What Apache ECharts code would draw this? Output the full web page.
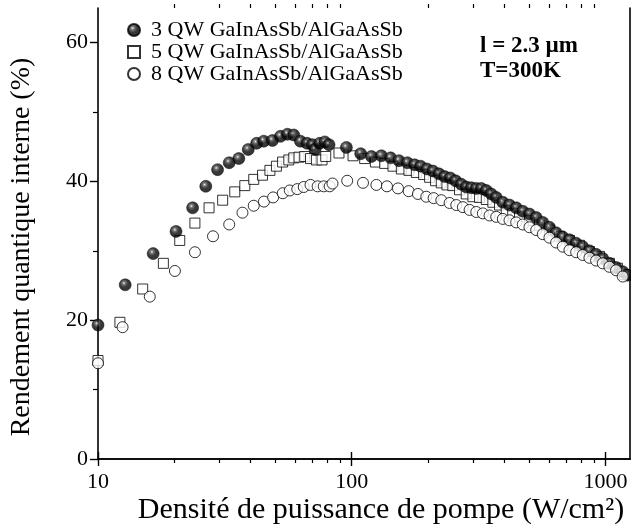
<!DOCTYPE html>
<html><head><meta charset="utf-8">
<script src="https://cdn.jsdelivr.net/npm/echarts@6/dist/echarts.min.js"></script>
<style>html,body{margin:0;padding:0;background:#fff}#c{width:631px;height:529px}</style>
</head><body><div id="c"></div>
<script>
const seriesNames = ['3 QW GaInAsSb/AlGaAsSb', '5 QW GaInAsSb/AlGaAsSb', '8 QW GaInAsSb/AlGaAsSb'];

const qw3X = [10, 12.8, 16.5, 20.3, 23.6, 26.6, 29.6, 32.9, 35.9, 39.1, 42.2, 45.0, 48.7, 52.4, 55.8, 59.1, 62.8, 66.7, 70.0, 71.7, 74.8, 78.3, 81.4, 95.3, 108.5, 119.6, 130.9, 142.4, 153.6, 165.7, 177.0, 186.9, 197.9, 209.0, 220.7, 232.4, 244.7, 256.7, 270.3, 282.8, 296.0, 309.7, 324.1, 339.2, 354.8, 371.3, 394.2, 418.8, 445.0, 472.5, 502.0, 533.5, 566.3, 601.8, 639.4, 679.0, 721.6, 766.7, 814.0, 865.0, 919.1, 975.9, 1036.8, 1101.6, 1170, 1220];
const qw3Y = [19.3, 25.1, 29.6, 32.8, 36.2, 39.3, 41.7, 42.7, 43.3, 44.6, 45.5, 45.8, 45.9, 46.5, 46.8, 46.7, 45.8, 45.5, 45.3, 44.6, 45.5, 45.7, 45.3, 44.9, 44.0, 43.6, 43.7, 43.4, 43.0, 42.7, 42.4, 42.2, 41.8, 41.5, 41.1, 40.7, 40.5, 40.1, 39.6, 39.2, 39.1, 39.0, 39.0, 38.7, 38.2, 37.7, 37.0, 36.6, 36.2, 35.7, 35.3, 34.8, 34.1, 33.4, 32.6, 32.0, 31.6, 31.1, 30.6, 30.0, 29.5, 28.9, 28.2, 27.6, 27.0, 26.5];

const qw5X = [10, 12.2, 15.0, 18.1, 21.0, 24.1, 27.4, 31.0, 34.6, 37.9, 41.1, 44.5, 47.6, 50.5, 53.4, 56.5, 59.1, 62.0, 65.3, 68.8, 72.6, 76.4, 79.0, 89.1, 101.2, 112.5, 124.0, 134.9, 145.4, 156.9, 168.1, 179.8, 192.1, 202.8, 214.1, 225.5, 237.3, 250.4, 266.1, 282.8, 300.4, 319.1, 339.2, 360.0, 382.5, 406.5, 431.2, 458.6, 502.0, 549.9, 601.8, 659.0, 721.6, 790.0, 865.0, 947.1, 1036.8, 1115, 1188];
const qw5Y = [14.2, 19.7, 24.5, 28.2, 31.5, 34.0, 36.2, 37.3, 38.5, 39.4, 40.3, 40.9, 41.6, 42.2, 42.8, 43.1, 43.4, 43.5, 43.6, 43.3, 43.1, 43.1, 43.6, 44.1, 43.7, 43.3, 42.8, 42.6, 42.2, 41.8, 41.6, 41.3, 41.0, 40.6, 40.1, 39.8, 39.5, 39.4, 38.8, 38.2, 37.8, 37.7, 37.4, 37.0, 36.6, 35.8, 35.4, 34.9, 34.4, 33.7, 33.0, 32.1, 31.5, 30.8, 29.9, 29.2, 28.2, 27.5, 26.6];

const qw8X = [10, 12.5, 16.0, 20.1, 24.1, 28.4, 32.9, 37.1, 41.1, 45.1, 49.0, 53.5, 57.0, 61.0, 64.7, 68.8, 73.4, 77.6, 81.9, 84.0, 96.0, 110.8, 125.1, 137.7, 152.2, 167.7, 182.4, 196.8, 210.3, 225.5, 243.1, 258.4, 274.3, 291.5, 309.7, 328.8, 349.4, 371.3, 394.2, 418.8, 445.0, 472.5, 502.0, 533.5, 566.3, 601.8, 639.4, 679.0, 721.6, 766.7, 814.0, 865.0, 919.1, 975.9, 1036.8, 1101.6, 1170];
const qw8Y = [13.8, 19.0, 23.4, 27.1, 29.8, 32.1, 33.8, 35.5, 36.5, 37.1, 37.7, 38.3, 38.7, 38.9, 39.2, 39.5, 39.3, 39.3, 39.3, 39.7, 40.1, 39.8, 39.5, 39.3, 39.0, 38.6, 38.2, 37.8, 37.6, 37.3, 36.9, 36.6, 36.3, 35.9, 35.6, 35.4, 35.1, 34.9, 34.6, 34.4, 34.1, 33.8, 33.4, 33.0, 32.4, 31.9, 31.2, 30.6, 30.1, 29.8, 29.4, 29.0, 28.6, 28.2, 27.7, 27.2, 26.3];

const xMajorTicks = [10, 100, 1000];
const xMinorTicks = [20, 30, 40, 50, 60, 70, 80, 90, 200, 300, 400, 500, 600, 700, 800, 900];
const yMajorTicks = [0, 20, 40, 60];
const yMinorTicks = [10, 30, 50];

const xTitle = 'Densité de puissance de pompe (W/cm²)';
const yTitle = 'Rendement quantique interne (%)';
const note1 = 'l = 2.3 µm';
const note2 = 'T=300K';

const zip = (a, b) => a.map((v, i) => [v, b[i]]);
const FONT = '"Liberation Serif", "Times New Roman", serif';
const X_MIN = 10, X_MAX = 1250, Y_MIN = 0, Y_MAX = 65;

function xAx(opts) {
  return Object.assign({
    type: 'log', logBase: 10, min: X_MIN, max: X_MAX, gridIndex: 0,
    splitLine: { show: false }, axisLabel: { show: false },
    axisLine: { show: false, lineStyle: { color: '#000', width: 1.6 } },
    axisTick: { show: false }
  }, opts);
}
function yAx(opts) {
  return Object.assign({
    type: 'value', min: Y_MIN, max: Y_MAX, gridIndex: 0,
    splitLine: { show: false }, axisLabel: { show: false },
    axisLine: { show: false, lineStyle: { color: '#000', width: 1.6 } },
    axisTick: { show: false }
  }, opts);
}

const chart = echarts.init(document.getElementById('c'), null, { renderer: 'canvas' });
const sphere = {
  type: 'radial', x: 0.4, y: 0.36, r: 0.64,
  colorStops: [{ offset: 0, color: '#eeeeee' }, { offset: 0.2, color: '#555' }, { offset: 0.5, color: '#080808' }, { offset: 1, color: '#000' }]
};

chart.setOption({
  animation: false,
  backgroundColor: '#fff',
  grid: { left: 98, right: 1, top: 8, bottom: 70, outerBoundsMode: 'none', containLabel: false },
  legend: {
    data: seriesNames, orient: 'vertical', left: 122, top: 14,
    itemWidth: 12, itemHeight: 12, itemGap: 0,
    textStyle: { fontFamily: FONT, fontSize: 22, lineHeight: 22, color: '#000', padding: [0, 0, 0, 6] }
  },
  xAxis: [
    xAx({ position: 'bottom', axisLine: { show: true, lineStyle: { color: '#000', width: 1.6 } },
      axisTick: { show: true, customValues: xMajorTicks, length: 7, lineStyle: { color: '#000', width: 1.4 } },
      axisLabel: { show: true, customValues: xMajorTicks, formatter: v => String(Math.round(v)), color: '#000', fontFamily: FONT, fontSize: 22, margin: 12 } }),
    xAx({ position: 'bottom', axisTick: { show: true, customValues: xMinorTicks, length: 4, lineStyle: { color: '#000', width: 1.2 } } }),
    xAx({ position: 'top', axisLine: { show: true, lineStyle: { color: '#000', width: 1.6 } },
      axisTick: { show: true, customValues: xMajorTicks, length: 7, lineStyle: { color: '#000', width: 1.4 } } }),
    xAx({ position: 'top', axisTick: { show: true, customValues: xMinorTicks, length: 4, lineStyle: { color: '#000', width: 1.2 } } })
  ],
  yAxis: [
    yAx({ position: 'left', axisLine: { show: true, lineStyle: { color: '#000', width: 1.6 } },
      axisTick: { show: true, customValues: yMajorTicks, length: 8, lineStyle: { color: '#000', width: 1.4 } },
      axisLabel: { show: true, customValues: yMajorTicks, color: '#000', fontFamily: FONT, fontSize: 22, margin: 10 } }),
    yAx({ position: 'left', axisTick: { show: true, customValues: yMinorTicks, length: 5, lineStyle: { color: '#000', width: 1.2 } } }),
    yAx({ position: 'right', axisLine: { show: true, lineStyle: { color: '#000', width: 1.6 } } })
  ],
  graphic: [
    { type: 'text', left: 480, top: 35, style: { text: note1, font: 'bold 23px ' + FONT, fill: '#000' } },
    { type: 'text', left: 480, top: 60, style: { text: note2, font: 'bold 23px ' + FONT, fill: '#000' } },
    { type: 'text', x: 381, y: 510, style: { text: xTitle, font: '30px ' + FONT, fill: '#000', align: 'center', verticalAlign: 'middle' } },
    { type: 'text', x: 22, y: 247, rotation: Math.PI / 2, style: { text: yTitle, font: '28px ' + FONT, fill: '#000', align: 'center', verticalAlign: 'middle' } }
  ],
  series: [
    { name: seriesNames[1], type: 'scatter', xAxisIndex: 0, yAxisIndex: 0, symbol: 'rect', symbolSize: 10,
      itemStyle: { color: '#fff', borderColor: '#000', borderWidth: 1 }, data: zip(qw5X, qw5Y), z: 2 },
    { name: seriesNames[0], type: 'scatter', xAxisIndex: 0, yAxisIndex: 0, symbol: 'circle', symbolSize: 12,
      itemStyle: { color: sphere, borderColor: '#000', borderWidth: 0.6 }, data: zip(qw3X, qw3Y), z: 3 },
    { name: seriesNames[2], type: 'scatter', xAxisIndex: 0, yAxisIndex: 0, symbol: 'circle', symbolSize: 11,
      itemStyle: { color: '#fff', borderColor: '#000', borderWidth: 1 }, data: zip(qw8X, qw8Y), z: 4 }
  ]
});
</script>
</body></html>
